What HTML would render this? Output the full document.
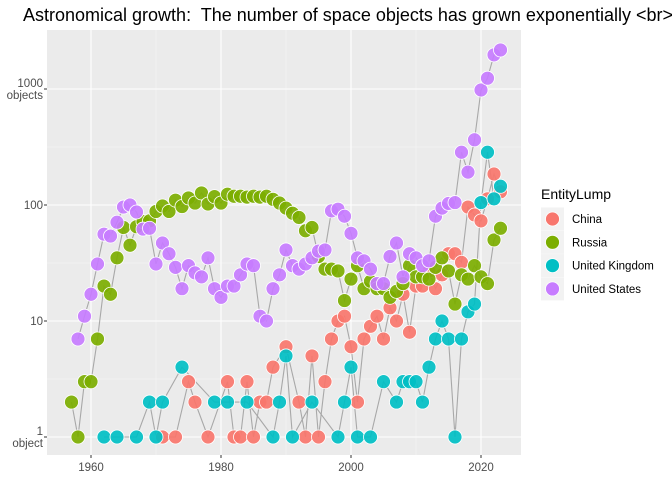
<!DOCTYPE html>
<html><head><meta charset="utf-8"><style>
body{margin:0;background:#fff;font-family:"Liberation Sans",sans-serif;overflow:hidden}
svg text{font-family:"Liberation Sans",sans-serif}
</style></head><body>
<svg id="c" width="672" height="480" xmlns="http://www.w3.org/2000/svg">
<text x="23" y="21" font-size="18" fill="#000" xml:space="preserve">Astronomical growth:  The number of space objects has grown exponentially &lt;br&gt;</text>
<rect x="47" y="30" width="474" height="425" fill="#EBEBEB"/>
<g id="grid"></g><g id="lines"></g><g id="pts"></g><g id="axes"></g>
<g>
<text x="541" y="199" font-size="14">EntityLump</text>
<g id="leg"></g>
</g>
</svg>
<script>
const seriesNames=["China","Russia","United Kingdom","United States"];
const colors=["#F8766D","#7CAE00","#00BFC4","#C77CFF"];
const chinaYears=[1971,1973,1975,1976,1978,1981,1982,1983,1984,1985,1986,1987,1988,1990,1992,1993,1994,1995,1996,1997,1998,1999,2000,2001,2002,2003,2004,2005,2006,2007,2008,2009,2010,2011,2012,2013,2014,2015,2016,2017,2018,2019,2020,2021,2022,2023];
const chinaVals=[1,1,3,2,1,3,1,1,3,1,2,2,4,6,2,1,5,1,3,7,10,11,6,2,7,9,11,7,13,10,17,8,20,20,27,19,25,38,38,32,96,82,73,113,185,130];
const russiaYears=[1957,1958,1959,1960,1961,1962,1963,1964,1965,1966,1967,1968,1969,1970,1971,1972,1973,1974,1975,1976,1977,1978,1979,1980,1981,1982,1983,1984,1985,1986,1987,1988,1989,1990,1991,1992,1993,1994,1995,1996,1997,1998,1999,2000,2001,2002,2003,2004,2005,2006,2007,2008,2009,2010,2011,2012,2013,2014,2015,2016,2017,2018,2019,2020,2021,2022,2023];
const russiaVals=[2,1,3,3,7,20,17,35,64,45,65,72,73,88,98,88,110,97,115,104,127,102,118,104,124,119,119,117,119,117,119,112,104,94,85,78,60,64,36,28,28,27,15,23,30,19,22,19,19,16,18,21,30,24,24,23,29,35,27,14,25,23,30,24,21,50,63];
const ukYears=[1962,1964,1967,1969,1970,1971,1974,1979,1981,1984,1988,1989,1990,1991,1994,1998,1999,2000,2001,2003,2005,2007,2008,2009,2010,2011,2012,2013,2014,2015,2016,2017,2018,2019,2020,2021,2022,2023];
const ukVals=[1,1,1,2,1,2,4,2,2,2,1,2,5,1,2,1,2,4,1,1,3,2,3,3,3,2,4,7,10,7,1,7,12,14,105,285,113,145];
const usYears=[1958,1959,1960,1961,1962,1963,1964,1965,1966,1967,1968,1969,1970,1971,1972,1973,1974,1975,1976,1977,1978,1979,1980,1981,1982,1983,1984,1985,1986,1987,1988,1989,1990,1991,1992,1993,1994,1995,1996,1997,1998,1999,2000,2001,2002,2003,2004,2005,2006,2007,2008,2009,2010,2011,2012,2013,2014,2015,2016,2017,2018,2019,2020,2021,2022,2023];
const usVals=[7,11,17,31,56,54,71,96,100,87,62,63,31,47,38,29,19,30,26,24,35,19,16,20,20,25,31,30,11,10,19,25,41,30,28,31,35,40,41,89,92,80,57,35,33,28,21,21,36,47,24,38,35,30,33,80,94,103,105,285,192,365,980,1240,1970,2170];
const xTicks=[1960,1980,2000,2020];
const yTicks=[1,10,100,1000];
const yTickLabels=[["1","object"],["10"],["100"],["1000","objects"]];

const NS="http://www.w3.org/2000/svg";
const X=y=>91+(y-1960)*6.5;
const Y=v=>437-Math.log10(v)*116;
function mk(tag,attrs,parent){const e=document.createElementNS(NS,tag);for(const k in attrs)e.setAttribute(k,attrs[k]);parent.appendChild(e);return e;}
const grid=document.getElementById('grid');
[1970,1990,2010].forEach(t=>{const l=mk('line',{x1:X(t),x2:X(t),y1:30,y2:455,stroke:'#F5F5F5','stroke-width':0.6},grid);

});
[1,10,100].forEach(v=>{const y=Y(v*Math.sqrt(10));const l=mk('line',{x1:47,x2:521,y1:y,y2:y,stroke:'#F5F5F5','stroke-width':0.6},grid);

});
const ax=document.getElementById('axes');
xTicks.forEach(t=>{const l=mk('line',{x1:X(t),x2:X(t),y1:30,y2:455,stroke:'#fff','stroke-width':1.1},grid);


mk('line',{x1:X(t),x2:X(t),y1:455,y2:458,stroke:'#333'},ax);
const tx=mk('text',{x:X(t),y:471,'font-size':11.5,fill:'#4D4D4D','text-anchor':'middle'},ax);tx.textContent=t;

});
yTicks.forEach((v,i)=>{const y=Y(v);const l=mk('line',{x1:47,x2:521,y1:y,y2:y,stroke:'#fff','stroke-width':1.1},grid);


mk('line',{x1:44,x2:47,y1:y,y2:y,stroke:'#333'},ax);
const lab=yTickLabels[i];
lab.forEach((s,j)=>{const yy=lab.length>1?y-2+j*12:y+4;
const tx=mk('text',{x:43,y:yy,'font-size':11.5,fill:'#4D4D4D','text-anchor':'end'},ax);tx.textContent=s;

});});
const allYears=[chinaYears,russiaYears,ukYears,usYears];
const allVals=[chinaVals,russiaVals,ukVals,usVals];
const lg=document.getElementById('lines'),pg=document.getElementById('pts');
allYears.forEach((ys,s)=>{const d=ys.map((y,i)=>(i?'L':'M')+X(y)+','+Y(allVals[s][i])).join('');
const p=mk('path',{d:d,fill:'none',stroke:'#A8A8A8','stroke-width':1.1},lg);

});
allYears.forEach((ys,s)=>{ys.forEach((y,i)=>{const c=mk('circle',{cx:X(y),cy:Y(allVals[s][i]),r:7,fill:colors[s],'fill-opacity':0.92,stroke:'#fff','stroke-width':0.8},pg);

});});
const leg=document.getElementById('leg');
seriesNames.forEach((n,i)=>{const y=219+i*23.3;
mk('rect',{x:541,y:y-11.5,width:23,height:23,fill:'#F2F2F2'},leg);
const c=mk('circle',{cx:552.5,cy:y,r:7,fill:colors[i],stroke:'#fff','stroke-width':0.8},leg);


const t=mk('text',{x:572,y:y+4,'font-size':11.5,fill:'#000'},leg);t.textContent=n;

});
</script>
</body></html>
